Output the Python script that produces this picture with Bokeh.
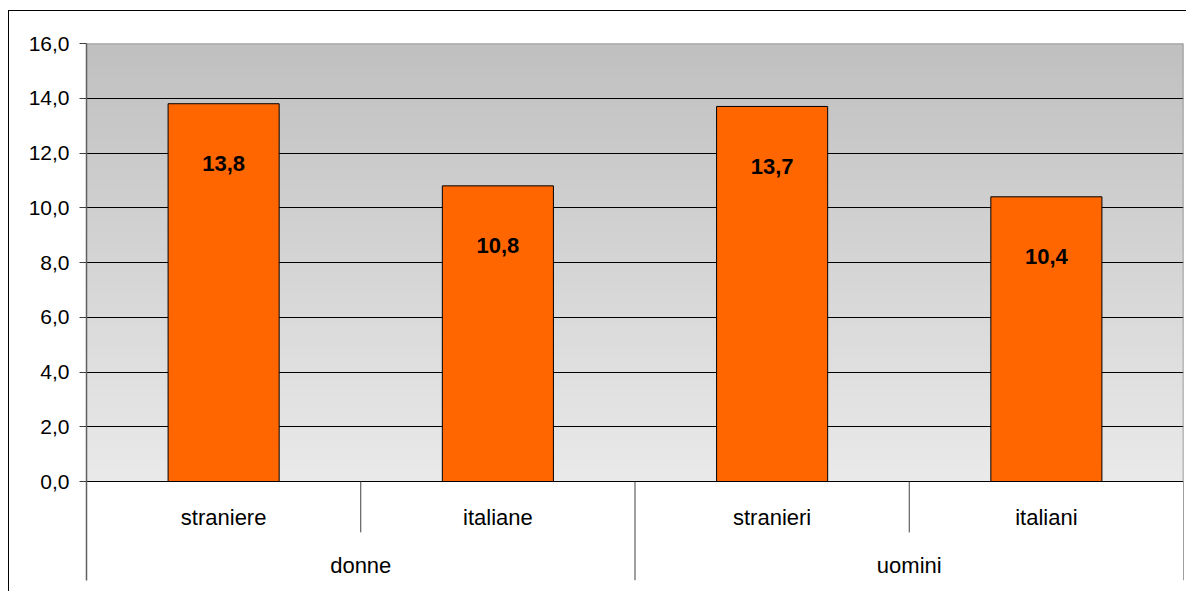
import numpy as np
from bokeh.plotting import figure
from bokeh.models import FactorRange, Range1d, FixedTicker, ColumnDataSource
from bokeh.core.properties import value
from bokeh.embed import file_html
from bokeh.resources import INLINE

# ---- data ----
groups = ["donne", "donne", "uomini", "uomini"]
subgroups = ["straniere", "italiane", "stranieri", "italiani"]
values = [13.8, 10.8, 13.7, 10.4]
group_names = ["donne", "uomini"]
y_ticks = [0, 2, 4, 6, 8, 10, 12, 14, 16]
y_tick_labels = ["0,0", "2,0", "4,0", "6,0", "8,0", "10,0", "12,0", "14,0", "16,0"]

factors = list(zip(groups, subgroups))
labels = [f"{v:.1f}".replace(".", ",") for v in values]

FONT = "Liberation Sans"
Y_MAX = 16
Y_BOTTOM = -3.616         # room below zero for the category labels
SUB_LABEL_Y = -1.31
GROUP_LABEL_Y = -3.07
INNER_SEP_Y = -1.86

p = figure(width=1178, height=581,
           x_range=FactorRange(factors=factors, factor_padding=0, group_padding=0,
                               subgroup_padding=0, range_padding=0),
           y_range=Range1d(Y_BOTTOM, Y_MAX),
           output_backend="svg", toolbar_location=None,
           x_axis_location=None,
           min_border_left=77, min_border_top=32, min_border_right=4, min_border_bottom=12)
# chart-area frame: only its top and left edges are inside the window
p.styles = {"border-top": "1px solid #000000", "border-left": "1px solid #000000",
            "margin-left": "8px", "margin-top": "10px"}
p.outline_line_color = None
p.background_fill_color = "white"
p.border_fill_color = "white"
p.xgrid.visible = False

# gradient plot-area background (dark top, light bottom)
N = 256
img = np.empty((N, 1), dtype=np.uint32)
view = img.view(dtype=np.uint8).reshape((N, 1, 4))
t = np.linspace(0, 1, N)
g = (234 + (192 - 234) * t).astype(np.uint8)
view[:, 0, 0] = g
view[:, 0, 1] = g
view[:, 0, 2] = g
view[:, 0, 3] = 255
n = len(factors)
bg = p.image_rgba(image=[img], x=0, y=0, dw=n, dh=Y_MAX)
bg.level = "image"

# gridlines
p.ygrid.ticker = FixedTicker(ticks=y_ticks[:-1])
p.ygrid.grid_line_color = "black"
p.ygrid.grid_line_width = 1

# top border and right border of plot area
p.segment(x0=[0], y0=[Y_MAX], x1=[n], y1=[Y_MAX], line_color="#808080", line_width=1.5)
p.segment(x0=[n], y0=[0], x1=[n], y1=[Y_MAX], line_color="#808080", line_width=1.5)

# bars
src = ColumnDataSource(dict(x=factors, top=values, label=labels))
p.vbar(x="x", top="top", width=0.405, source=src,
       fill_color="#FF6600", line_color="black", line_width=1)
p.text(x="x", y="top", text="label", source=src, y_offset=60,
       text_align="center", text_baseline="middle",
       text_font=value(FONT), text_font_size="22px", text_font_style="bold",
       text_color="black")

# category separators
bounds = list(range(n + 1))
group_bounds = [0] + [i + 1 for i in range(n - 1) if groups[i] != groups[i + 1]] + [n]
sep_y1 = [Y_BOTTOM if b in group_bounds else INNER_SEP_Y for b in bounds]
p.segment(x0=bounds[1:], y0=[0] * n, x1=bounds[1:], y1=sep_y1[1:],
          line_color="#404040", line_width=1)

# category labels
p.text(x=factors, y=[SUB_LABEL_Y] * n, text=subgroups,
       text_align="center", text_baseline="middle",
       text_font=value(FONT), text_font_size="22px", text_color="black")
p.text(x=group_names, y=[GROUP_LABEL_Y] * len(group_names), text=group_names,
       text_align="center", text_baseline="middle",
       text_font=value(FONT), text_font_size="22px", text_color="black")

# y axis
ax = p.yaxis[0]
ax.ticker = FixedTicker(ticks=y_ticks)
ax.major_label_overrides = {t_: l for t_, l in zip(y_ticks, y_tick_labels)}
ax.major_label_text_font = FONT
ax.major_label_text_font_size = "21px"
ax.major_label_text_color = "black"
ax.major_label_standoff = 10
ax.major_tick_out = 7
ax.major_tick_in = 0
ax.major_tick_line_color = "#404040"
ax.minor_tick_line_color = None
ax.axis_line_color = "#606060"
ax.axis_line_width = 1.5

open("out.html", "w").write(file_html(p, INLINE))
